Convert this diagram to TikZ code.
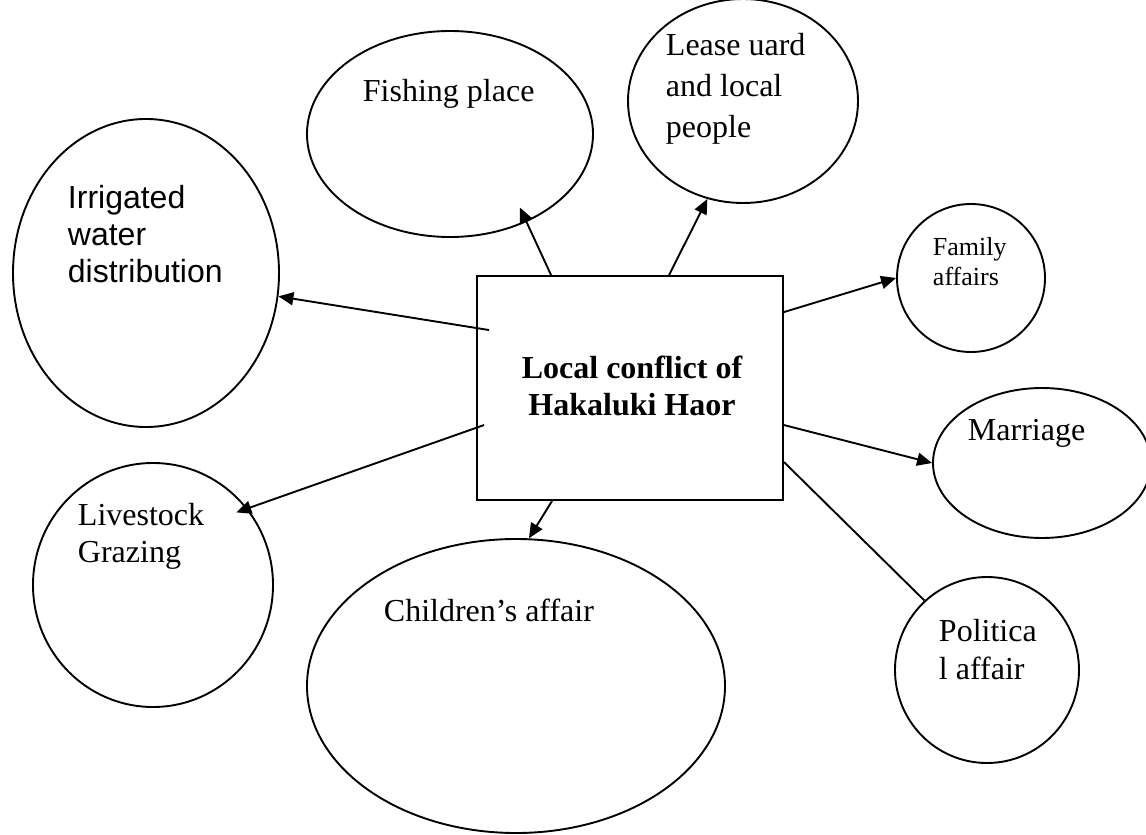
\documentclass[tikz,border=0pt]{standalone}
\usepackage{fontspec}
\setmainfont{Liberation Serif}
\newfontfamily\sansarial{Liberation Sans}
\usetikzlibrary{arrows.meta,shapes.geometric}

\begin{document}
\begin{tikzpicture}[x=1pt,y=-1pt,
  line width=1.9pt,
  bubble/.style={draw, ellipse, inner sep=0pt},
  lbl/.style={anchor=north west, inner sep=0pt, align=left,
              font=\fontsize{32}{37}\selectfont},
  arr/.style={-{Triangle[length=15pt,width=13pt]}},
]
\useasboundingbox (0,0) rectangle (1146,835);
\clip (0,0) rectangle (1146,835);

% central box
\node[draw, rectangle, inner sep=0pt, minimum width=306pt, minimum height=224pt] (box) at (630,388) {};
\node[anchor=north, inner sep=0pt, align=center,
      font=\bfseries\fontsize{32}{37}\selectfont] (title) at (632,355)
      {Local conflict of\\Hakaluki Haor};

% surrounding bubbles
\node[bubble, minimum width=266pt, minimum height=308pt] (irr)   at (146,273) {};
\node[bubble, minimum width=286pt, minimum height=206pt] (fish)  at (450,134) {};
\node[bubble, minimum width=230pt, minimum height=204pt] (lease) at (743,101) {};
\node[bubble, minimum width=148pt, minimum height=148pt] (fam)   at (971,278) {};
\node[bubble, minimum width=218pt, minimum height=150pt] (mar)   at (1042,463) {};
\node[bubble, minimum width=184pt, minimum height=186pt] (pol)   at (987,670) {};
\node[bubble, minimum width=418pt, minimum height=294pt] (child) at (516,686) {};
\node[bubble, minimum width=240pt, minimum height=244pt] (live)  at (153,585) {};

% bubble texts
\node[lbl, font=\sansarial\fontsize{32}{37}\selectfont] (irrtxt) at (67,184) {Irrigated\\water\\distribution};
\node[lbl] (fishtxt) at (362,78) {Fishing place};
\node[lbl, font=\fontsize{32}{41}\selectfont] (leasetxt) at (665,32) {Lease uard\\and local\\people};
\node[lbl, font=\fontsize{26}{30}\selectfont] (famtxt) at (932,237) {Family\\affairs};
\node[lbl] (martxt) at (967,418) {Marriage};
\node[lbl, font=\fontsize{32}{38}\selectfont] (poltxt) at (938,618) {Politica\\l affair};
\node[lbl] (childtxt) at (383,598) {Children’s affair};
\node[lbl] (livetxt) at (77,502) {Livestock\\Grazing};

% connectors
\draw[arr] ([shift={(13,55)}]box.north west) -- (irr.-10);
\draw[arr, shorten >=-16pt] ([shift={(75,0)}]box.north west) -- (fish.-49.5);
\draw[arr] ([shift={(193,0)}]box.north west) -- (lease.-110);
\draw[arr] ([shift={(0,37)}]box.north east) -- (fam.180);
\draw[arr] ([shift={(0,150)}]box.north east) -- (mar.180);
\draw ([shift={(0,187)}]box.north east) -- (pol.132);
\draw[arr] ([shift={(76,0)}]box.south west) -- (child.85);
\draw[arr, shorten >=-12pt] ([shift={(8,150)}]box.north west) -- (live.39.5);
\end{tikzpicture}
\end{document}
